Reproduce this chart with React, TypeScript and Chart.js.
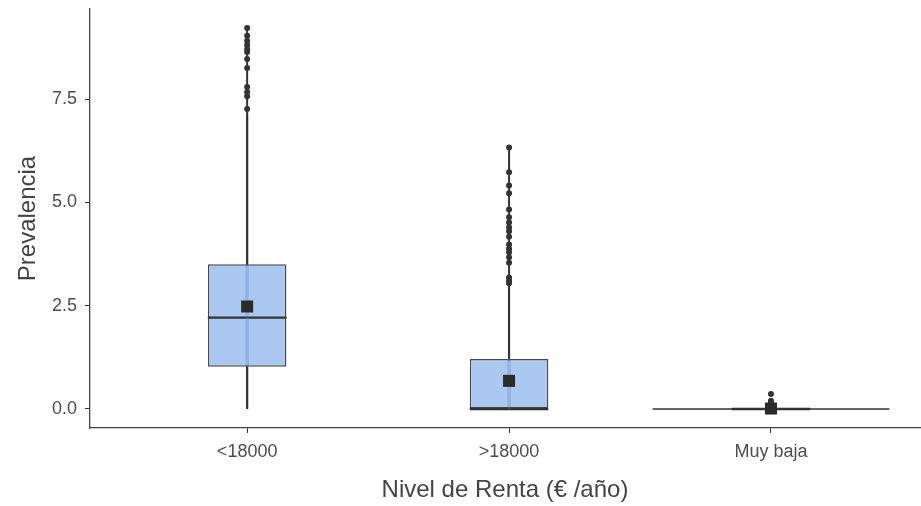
import { useEffect, useRef } from 'react';
import { Chart, registerables } from 'chart.js';

Chart.register(...registerables);

// Income groups and their box statistics
const categories = ['<18000', '>18000', 'Muy baja'];
const q1 = [1.02, 0, 0];
const medians = [2.21, 0, 0];
const q3 = [3.5, 1.21, 0];
const whiskerLow = [0, 0, 0];
const whiskerHigh = [7.15, 2.98, 0];
const means = [2.48, 0.68, 0.01];

// Points beyond the whiskers
const outliersLow = [9.22, 9.03, 8.91, 8.81, 8.71, 8.64, 8.47, 8.25, 7.79, 7.67, 7.57, 7.26];
const outliersHigh = [
  6.33, 5.73, 5.41, 5.22, 4.83, 4.64, 4.51, 4.39, 4.3, 4.17, 3.98, 3.88, 3.79, 3.67, 3.54,
  3.18, 3.1, 3.04,
];
const outliersVeryLow = [0.36, 0.2, 0.16, 0.12, 0.1, 0.08, 0.06, 0.05, 0.04, 0.03];

// Violin extents (max value, half width in category units)
const violinMax = [9.22, 6.33, 0];
const violinHalfWidth = [0, 0, 0.452];

const yTicks = [0, 2.5, 5, 7.5];

const FONT = 'Liberation Sans, Arial, Helvetica, sans-serif';
const DARK = '#333333';
const BOX_FILL = 'rgba(170, 200, 240, 1)';

export default function App() {
  const ref = useRef<HTMLCanvasElement>(null);

  useEffect(() => {
    document.body.style.margin = '0';
    const canvas = ref.current;
    if (!canvas) return;

    const outlierSets = [outliersLow, outliersHigh, outliersVeryLow];

    const whiskerSets = categories.map((_, i) => ({
      type: 'line' as const,
      order: 2,
      data: [
        { x: i + 1, y: whiskerLow[i] },
        { x: i + 1, y: q1[i] },
        { x: i + 1, y: null },
        { x: i + 1, y: q3[i] },
        { x: i + 1, y: whiskerHigh[i] },
      ],
      borderColor: DARK,
      borderWidth: 2,
      pointRadius: 0,
      spanGaps: false,
    }));

    // Violin outlines (very narrow for the spread groups, flat for the one at zero)
    const violinSets = categories.map((_, i) => {
      const flat = violinHalfWidth[i] > 0;
      return {
        type: 'line' as const,
        order: 5,
        data: flat
          ? [
              { x: i + 1 - violinHalfWidth[i], y: 0 },
              { x: i + 1 + violinHalfWidth[i], y: 0 },
            ]
          : [
              { x: i + 1, y: 0 },
              { x: i + 1, y: violinMax[i] },
            ],
        borderColor: DARK,
        borderWidth: flat ? 1.6 : 2,
        pointRadius: 0,
      };
    });

    // Translucent violin body seen through the box
    const violinBodySets = categories
      .map((_, i) => i)
      .filter((i) => violinHalfWidth[i] === 0)
      .map((i) => ({
        type: 'line' as const,
        order: 3,
        data: [
          { x: i + 1, y: q1[i] },
          { x: i + 1, y: q3[i] },
        ],
        borderColor: 'rgba(90, 130, 200, 0.3)',
        borderWidth: 3.5,
        pointRadius: 0,
      }));

    const outlierData = outlierSets.flatMap((vals, i) => vals.map((v) => ({ x: i + 1, y: v })));

    const medianPlugin = {
      id: 'boxMedians',
      afterDatasetDraw(chart: any, args: any) {
        if (args.meta.type !== 'bar') return;
        const { ctx, scales } = chart;
        ctx.save();
        ctx.strokeStyle = DARK;
        ctx.lineWidth = 2.4;
        args.meta.data.forEach((bar: any, i: number) => {
          const y = scales.y.getPixelForValue(medians[i]);
          ctx.beginPath();
          ctx.moveTo(bar.x - bar.width / 2, y);
          ctx.lineTo(bar.x + bar.width / 2, y);
          ctx.stroke();
        });
        ctx.restore();
      },
    };

    const chart = new Chart(canvas, {
      type: 'bar',
      data: {
        datasets: [
          {
            type: 'scatter' as const,
            order: 0,
            data: categories.map((_, i) => ({ x: i + 1, y: means[i] })),
            pointStyle: 'rect',
            pointRadius: 8.5,
            backgroundColor: '#2b2b2b',
            borderColor: '#2b2b2b',
            borderWidth: 0,
          } as any,
          {
            type: 'scatter' as const,
            order: 1,
            data: outlierData,
            pointRadius: 3,
            backgroundColor: DARK,
            borderColor: DARK,
            borderWidth: 0,
          } as any,
          ...violinBodySets,
          {
            type: 'bar' as const,
            order: 4,
            data: categories.map((_, i) => ({ x: i + 1, y: [q1[i], q3[i]] })),
            backgroundColor: BOX_FILL,
            borderColor: '#4a4a4a',
            borderWidth: 1.5,
            borderSkipped: false,
            barPercentage: 0.3,
            categoryPercentage: 1,
          } as any,
          ...whiskerSets,
          ...violinSets,
        ] as any,
      },
      options: {
        responsive: false,
        animation: false,
        layout: { autoPadding: false, padding: { top: 9, right: 1, left: 0, bottom: 0 } },
        plugins: { legend: { display: false }, tooltip: { enabled: false } },
        scales: {
          x: {
            type: 'linear',
            min: 0.4,
            max: 3.569,
            offset: false,
            afterBuildTicks: (scale: any) => {
              scale.ticks = categories.map((_, i) => ({ value: i + 1 }));
            },
            afterFit: (scale: any) => {
              scale.height = 78;
              scale.paddingLeft = 0;
              scale.paddingRight = 0;
            },
            ticks: {
              callback: (v: any) => categories[Number(v) - 1],
              color: '#4d4d4d',
              font: { family: FONT, size: 18 },
              padding: 8,
              maxRotation: 0,
            },
            grid: {
              offset: false,
              drawOnChartArea: false,
              drawTicks: true,
              tickLength: 5,
              color: DARK,
            },
            border: { display: true, color: '#444', width: 1.3 },
            title: {
              display: true,
              text: 'Nivel de Renta (€ /año)',
              color: '#444',
              font: { family: FONT, size: 24 },
              padding: { top: 0, bottom: 1 },
            },
          },
          y: {
            type: 'linear',
            min: -0.461,
            max: 9.68,
            afterBuildTicks: (scale: any) => {
              scale.ticks = yTicks.map((v) => ({ value: v }));
            },
            afterFit: (scale: any) => {
              scale.width = 90;
              scale.paddingTop = 0;
              scale.paddingBottom = 0;
            },
            ticks: {
              callback: (v: any) => Number(v).toFixed(1),
              color: '#4d4d4d',
              font: { family: FONT, size: 18 },
              padding: 8,
            },
            grid: {
              drawOnChartArea: false,
              drawTicks: true,
              tickLength: 5,
              color: DARK,
            },
            border: { display: true, color: '#444', width: 1.3 },
            title: {
              display: true,
              text: 'Prevalencia',
              color: '#444',
              font: { family: FONT, size: 24 },
              padding: { top: 14, bottom: 0 },
            },
          },
        },
      } as any,
      plugins: [medianPlugin],
    });

    return () => chart.destroy();
  }, []);

  return (
    <div style={{ width: 921, height: 506 }}>
      <canvas ref={ref} width={921} height={506} />
    </div>
  );
}
